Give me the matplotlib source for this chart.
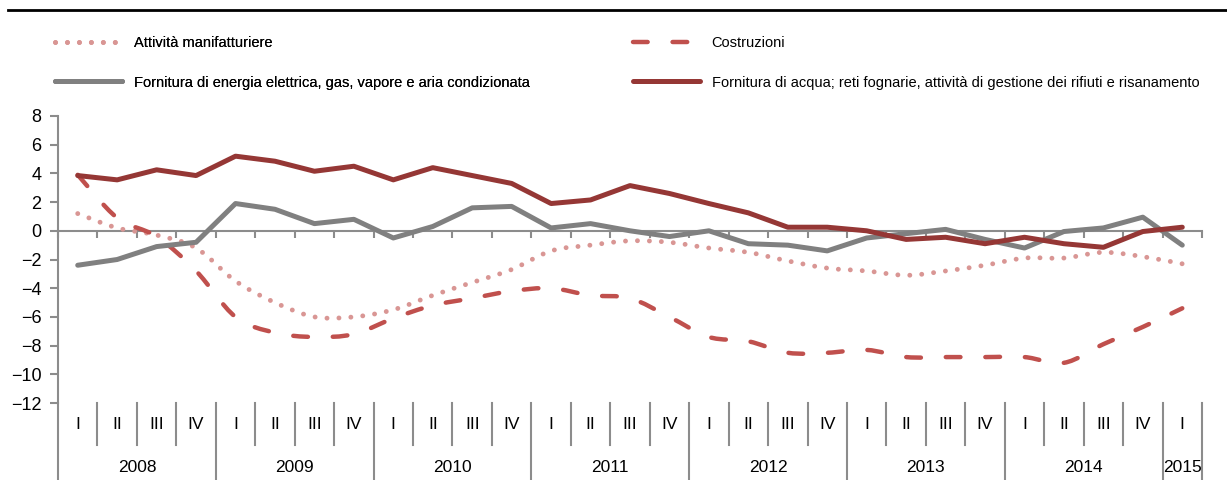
import matplotlib
matplotlib.use("Agg")
import numpy as np
import matplotlib.pyplot as plt
from matplotlib import font_manager
from matplotlib.path import Path
from matplotlib.patches import PathPatch
from matplotlib.lines import Line2D

# --- data (quarterly, 2008 Q1 - 2015 Q1) ---
years = ["2008", "2009", "2010", "2011", "2012", "2013", "2014", "2015"]
quarters = ["I", "II", "III", "IV"] * 7 + ["I"]

manifatturiere = [1.2, 0.2, -0.3, -1.2, -3.5, -5.0, -6.0, -6.0, -5.5,
                  -4.5, -3.6, -2.7, -1.4, -1.0, -0.7, -0.8, -1.2, -1.5, -2.1,
                  -2.6, -2.8, -3.1, -2.8, -2.4, -1.9, -1.9, -1.5, -1.8, -2.3]
costruzioni = [3.9, 0.9, -0.4, -2.8, -6.0, -7.1, -7.4, -7.2, -6.1,
               -5.2, -4.7, -4.2, -4.0, -4.5, -4.7, -6.0, -7.4, -7.7, -8.5,
               -8.5, -8.3, -8.8, -8.8, -8.8, -8.8, -9.2, -7.9, -6.7, -5.4]
energia = [-2.4, -2.0, -1.1, -0.8, 1.9, 1.5, 0.5, 0.8, -0.5,
           0.3, 1.6, 1.7, 0.2, 0.5, 0.0, -0.4, 0.0, -0.9, -1.0,
           -1.4, -0.5, -0.2, 0.1, -0.6, -1.2, -0.05, 0.2, 0.95, -1.0]
acqua = [3.85, 3.55, 4.25, 3.85, 5.2, 4.85, 4.15, 4.5, 3.55,
         4.4, 3.85, 3.3, 1.9, 2.15, 3.15, 2.6, 1.9, 1.25, 0.25,
         0.25, 0.0, -0.6, -0.45, -0.9, -0.45, -0.9, -1.15, -0.05, 0.25]

labels = ["Attività manifatturiere",
          "Costruzioni",
          "Fornitura di energia elettrica, gas, vapore e aria condizionata",
          "Fornitura di acqua; reti fognarie, attività di gestione dei rifiuti e risanamento"]

C_PINK = "#D99694"
C_RED = "#C0504D"
C_GREY = "#808080"
C_DARK = "#953735"
C_AXIS = "#8C8C8C"

available = {f.name for f in font_manager.fontManager.ttflist}
FONT = "Liberation Sans Narrow" if "Liberation Sans Narrow" in available else "Liberation Sans"
plt.rcParams["font.family"] = [FONT, "DejaVu Sans"]

DOTTED = (0, (0.01, 2.45))
DASHED = (0, (3.3, 5.6))


def smooth_path(xs, ys):
    # excel-style smoothed line (catmull-rom as cubic bezier)
    pts = np.column_stack([xs, ys]).astype(float)
    n = len(pts)
    verts, codes = [pts[0]], [Path.MOVETO]
    for i in range(n - 1):
        p0 = pts[i - 1] if i > 0 else pts[i]
        p1, p2 = pts[i], pts[i + 1]
        p3 = pts[i + 2] if i + 2 < n else pts[i + 1]
        verts += [p1 + (p2 - p0) / 6, p2 - (p3 - p1) / 6, p2]
        codes += [Path.CURVE4] * 3
    return Path(verts, codes)


W, H = 1227, 480
fig = plt.figure(figsize=(W / 100, H / 100), dpi=100)
ax = fig.add_axes([58 / W, 1 - 403 / H, (1202 - 58) / W, (403 - 116) / H])

n = len(quarters)
x = np.arange(n) + 0.5
ax.set_xlim(0, n)
ax.set_ylim(-12, 8)

ax.add_patch(PathPatch(smooth_path(x, manifatturiere), fill=False, edgecolor=C_PINK,
                       lw=3.5, linestyle=DOTTED, capstyle="round", zorder=3))
ax.add_patch(PathPatch(smooth_path(x, costruzioni), fill=False, edgecolor=C_RED,
                       lw=3.2, linestyle=DASHED, capstyle="round", zorder=3))
ax.plot(x, energia, color=C_GREY, lw=3.6, solid_capstyle="round", zorder=4)
ax.plot(x, acqua, color=C_DARK, lw=3.6, solid_capstyle="round", zorder=5)

# axes styling
for s in ["top", "right"]:
    ax.spines[s].set_visible(False)
ax.spines["left"].set_color(C_AXIS)
ax.spines["left"].set_linewidth(1.5)
ax.spines["bottom"].set_position(("data", 0))
ax.spines["bottom"].set_color(C_AXIS)
ax.spines["bottom"].set_linewidth(1.5)
ax.set_xticks(np.arange(n + 1))
ax.set_xticklabels([])
ax.tick_params(axis="x", direction="out", length=5, width=1.5, color=C_AXIS)
ax.set_yticks(np.arange(-12, 9, 2))
ax.tick_params(axis="y", direction="out", length=6, width=1.5, color=C_AXIS,
               labelsize=13, pad=6)

# category axis below the plot
xt = ax.get_xaxis_transform()
for i in range(n + 1):
    if i % 4 == 0 or i == n:
        ax.plot([i, i], [0, -0.27], transform=xt, color=C_AXIS, lw=1.5, clip_on=False)
    else:
        ax.plot([i, i], [0, -0.145], transform=xt, color=C_AXIS, lw=1.5, clip_on=False)
for xi, q in zip(x, quarters):
    ax.text(xi, -0.075, q, transform=xt, ha="center", va="center", fontsize=12.5)
for j, yr in enumerate(years):
    start = j * 4
    end = min(start + 4, n)
    ax.text((start + end) / 2, -0.225, yr, transform=xt, ha="center", va="center", fontsize=12.5)

# top rule
fig.add_artist(Line2D([8 / W, 1], [1 - 10 / H] * 2, color="black", lw=2))

# legend, two columns
h_manif = Line2D([], [], color=C_PINK, lw=3.5, linestyle=DOTTED, dash_capstyle="round")
h_costr = Line2D([], [], color=C_RED, lw=3.2, linestyle=DASHED, dash_capstyle="round")
h_energ = Line2D([], [], color=C_GREY, lw=3.6, solid_capstyle="round")
h_acqua = Line2D([], [], color=C_DARK, lw=3.6, solid_capstyle="round")

leg_kw = dict(loc="upper left", frameon=False, fontsize=10.5, handlelength=4.6,
              handletextpad=0.8, labelspacing=1.75, borderpad=0, borderaxespad=0)
leg1 = fig.legend([h_manif, h_energ], [labels[0], labels[2]],
                  bbox_to_anchor=(55 / W, 1 - 36 / H), **leg_kw)
fig.add_artist(leg1)
fig.legend([h_costr, h_acqua], [labels[1], labels[3]],
           bbox_to_anchor=(633 / W, 1 - 36 / H), **leg_kw)

fig.savefig("out.png", dpi=100)
